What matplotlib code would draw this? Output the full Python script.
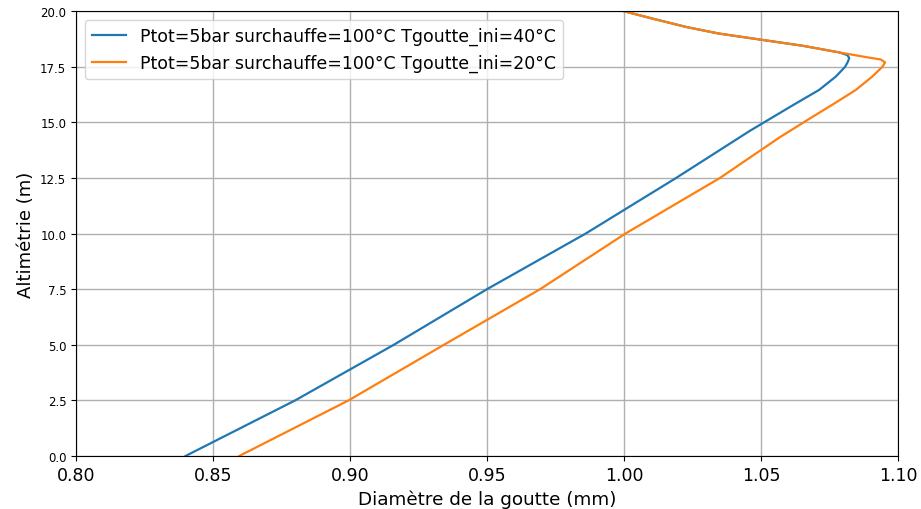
import matplotlib
matplotlib.use("Agg")
import matplotlib.pyplot as plt
import numpy as np

# altitude (m) and droplet diameter (mm), top -> bottom
# common upper part (both curves overlap there)
y_top = [20.0, 19.66, 19.29, 19.0, 18.72, 18.45, 18.15]
x_top = [1.000, 1.0107, 1.0228, 1.0345, 1.050, 1.0651, 1.0785]

# Tgoutte_ini = 40 C
y_40 = y_top + [18.03, 17.9, 17.75, 17.5, 17.06, 16.46, 15.8, 15.25, 14.61,
                12.5, 10.0, 7.5, 5.0, 2.5, 0.0]
x_40 = x_top + [1.0815, 1.0822, 1.0818, 1.0807, 1.0773, 1.0712, 1.0620, 1.0545, 1.0458,
                1.019, 0.986, 0.950, 0.916, 0.880, 0.840]

# Tgoutte_ini = 20 C
y_20 = y_top + [17.94, 17.83, 17.70, 17.5, 17.06, 16.46, 15.8, 15.16, 14.32,
                12.5, 10.0, 7.5, 5.0, 2.5, 0.0]
x_20 = x_top + [1.0882, 1.0937, 1.0953, 1.0943, 1.0906, 1.0846, 1.0761, 1.0676, 1.0567,
                1.035, 1.0005, 0.9694, 0.9343, 0.8995, 0.8596]

labels = ["Ptot=5bar surchauffe=100°C Tgoutte_ini=40°C",
          "Ptot=5bar surchauffe=100°C Tgoutte_ini=20°C"]

fig = plt.figure(figsize=(9.21, 5.10), dpi=100)
ax = fig.add_axes([0.0825, 0.104, 0.8925, 0.872])

ax.plot(x_40, y_40, color="#1f77b4", lw=1.6, label=labels[0])
ax.plot(x_20, y_20, color="#ff7f0e", lw=1.6, label=labels[1])

ax.set_xlim(0.80, 1.10)
ax.set_ylim(0, 20)
ax.set_xticks(np.arange(0.80, 1.101, 0.05))
ax.set_yticks(np.arange(0, 20.01, 2.5))
ax.tick_params(axis="x", labelsize=12.5)
ax.tick_params(axis="y", labelsize=8.5)
ax.grid(True, color="#b0b0b0", lw=1)
ax.set_xlabel("Diamètre de la goutte (mm)", fontsize=13.2)
ax.set_ylabel("Altimétrie (m)", fontsize=13)
ax.legend(loc="upper left", fontsize=12.5)

fig.savefig("out.png", dpi=100)
